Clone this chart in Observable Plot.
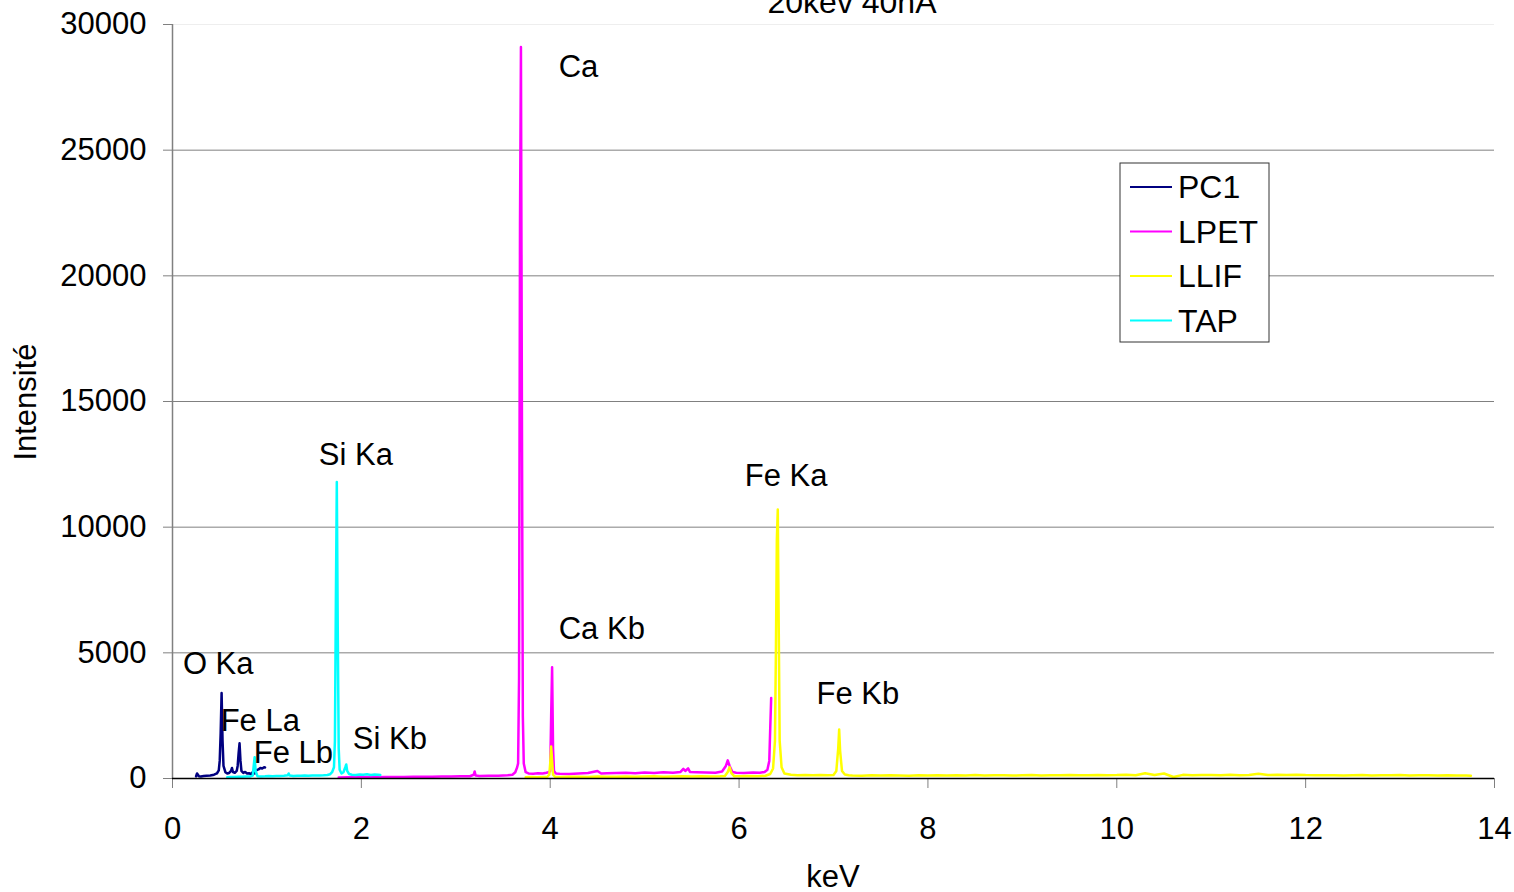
<!DOCTYPE html>
<html>
<head>
<meta charset="utf-8">
<script src="https://cdn.jsdelivr.net/npm/d3@7"></script>
<script src="https://cdn.jsdelivr.net/npm/@observablehq/plot@0.6"></script>
<style>
  html, body { margin: 0; padding: 0; background: #ffffff; }
  #chart { width: 1514px; height: 892px; overflow: hidden; }
</style>
</head>
<body>
<div id="chart"></div>
<script>
// ---- Data ----
const seriesNames = ["PC1", "LPET", "LLIF", "TAP"];
const seriesColors = ["#000080", "#ff00ff", "#ffff00", "#00ffff"];

const pc1Kev = [0.25,0.26,0.28,0.30,0.33,0.36,0.40,0.44,0.47,0.49,0.50,0.51,0.52,0.53,0.54,0.56,0.58,0.60,0.62,0.63,0.64,0.66,0.68,0.69,0.70,0.71,0.72,0.73,0.75,0.77,0.79,0.81,0.83,0.85,0.87,0.89,0.91,0.93,0.95,0.97,0.98];
const pc1Int = [90,200,90,80,100,110,120,150,200,320,700,1800,3400,1500,500,250,200,220,300,420,260,230,300,500,1000,1400,700,300,220,260,200,210,180,250,200,330,360,420,400,450,440];

const tapKev = [0.58,0.62,0.66,0.70,0.74,0.78,0.82,0.85,0.86,0.87,0.88,0.90,0.94,0.98,1.02,1.06,1.10,1.14,1.18,1.22,1.23,1.24,1.28,1.32,1.36,1.40,1.44,1.48,1.52,1.56,1.60,1.64,1.67,1.69,1.71,1.72,1.73,1.74,1.75,1.76,1.77,1.79,1.81,1.83,1.84,1.85,1.87,1.90,1.94,1.98,2.02,2.06,2.10,2.14,2.18,2.20];
const tapInt = [50,60,55,70,65,80,75,120,500,850,300,90,80,85,95,90,100,95,110,130,200,120,100,110,105,115,110,120,115,120,125,140,170,250,450,1500,7000,11800,6000,1200,350,200,250,450,560,300,180,150,140,160,150,170,140,160,150,140];

const lpetKev = [1.76,1.85,1.95,2.05,2.15,2.25,2.35,2.45,2.55,2.65,2.75,2.85,2.95,3.05,3.15,3.19,3.20,3.21,3.25,3.35,3.45,3.55,3.60,3.63,3.65,3.66,3.67,3.68,3.69,3.70,3.71,3.72,3.74,3.77,3.82,3.87,3.92,3.96,3.99,4.00,4.01,4.02,4.03,4.04,4.06,4.10,4.20,4.30,4.40,4.50,4.52,4.54,4.60,4.70,4.80,4.90,5.00,5.10,5.20,5.30,5.38,5.41,5.43,5.46,5.48,5.55,5.65,5.75,5.82,5.86,5.88,5.90,5.93,5.97,6.05,6.15,6.22,6.27,6.30,6.32,6.33,6.34];
const lpetInt = [40,50,45,55,50,60,55,60,65,70,65,75,80,85,90,150,280,120,100,105,110,130,150,250,450,600,4000,22000,29100,15000,2500,600,250,200,190,210,200,230,260,300,2500,4430,1200,300,200,190,180,200,220,300,250,200,210,220,230,210,240,220,250,230,260,380,300,400,260,250,240,230,280,500,720,500,260,230,220,240,230,260,350,700,2000,3200];

const llifKev = [3.74,3.80,3.86,3.92,3.97,3.99,4.00,4.01,4.02,4.03,4.05,4.10,4.20,4.30,4.40,4.50,4.60,4.70,4.80,4.90,5.00,5.10,5.20,5.30,5.40,5.50,5.60,5.70,5.80,5.85,5.88,5.90,5.92,5.95,6.00,6.10,6.20,6.28,6.33,6.36,6.38,6.39,6.40,6.41,6.42,6.43,6.45,6.48,6.55,6.62,6.70,6.78,6.86,6.94,7.00,7.03,7.05,7.06,7.07,7.09,7.12,7.16,7.2,7.3,7.4,7.5,7.6,7.7,7.8,7.9,8.0,8.1,8.2,8.3,8.4,8.5,8.6,8.7,8.8,8.9,9.0,9.1,9.2,9.3,9.4,9.5,9.6,9.7,9.8,9.9,10.0,10.1,10.2,10.3,10.4,10.5,10.6,10.7,10.8,10.9,11.0,11.1,11.2,11.3,11.4,11.5,11.6,11.7,11.8,11.9,12.0,12.1,12.2,12.3,12.4,12.5,12.6,12.7,12.8,12.9,13.0,13.1,13.2,13.3,13.4,13.5,13.6,13.7,13.75];
const llifInt = [50,55,50,60,70,150,600,1270,700,150,70,60,65,70,60,75,70,65,80,70,75,85,70,80,90,75,85,80,90,100,260,450,200,90,85,95,90,110,180,400,1500,5000,9500,10700,6000,1500,450,200,150,130,140,125,135,130,140,300,1200,1950,1100,300,160,130,120,110,125,115,130,120,110,125,120,130,115,125,120,135,120,125,130,120,125,135,120,130,125,135,130,125,140,130,135,150,130,210,140,200,60,145,130,140,135,125,150,130,140,190,135,145,140,150,135,130,125,130,115,125,140,120,130,125,140,120,125,130,120,125,120,115,110];

const annLabels = ["Ca", "Si Ka", "Fe Ka", "Ca Kb", "Fe Kb", "O Ka", "Fe La", "Fe Lb", "Si Kb"];
const annKev = [4.09, 1.55, 6.06, 4.09, 6.82, 0.11, 0.51, 0.86, 1.91];
const annInt = [28300, 12850, 12050, 5930, 3340, 4540, 2270, 1030, 1550];

const xTicks = [0, 2, 4, 6, 8, 10, 12, 14];
const yTicks = [0, 5000, 10000, 15000, 20000, 25000, 30000];
const gridVals = [5000, 10000, 15000, 20000, 25000];

const titleText = "20kev 40nA";
const xLabel = "keV";
const yLabel = "Intensité";

// ---- Build rows ----
function rows(name, kev, inten) {
  return kev.map((k, i) => ({series: name, kev: k, int: inten[i]}));
}
const pc1 = rows("PC1", pc1Kev, pc1Int);
const lpet = rows("LPET", lpetKev, lpetInt);
const llif = rows("LLIF", llifKev, llifInt);
const tap = rows("TAP", tapKev, tapInt);
const ann = annLabels.map((t, i) => ({t, kev: annKev[i], int: annInt[i]}));

const FONT = "'Liberation Sans', Arial, sans-serif";
const FS = 31;

const lineOpts = {x: "kev", y: "int", stroke: "series", strokeWidth: 2.5, curve: "linear"};

const chart = Plot.plot({
  width: 1514,
  height: 892,
  marginTop: 24,
  marginRight: 20,
  marginBottom: 114,
  marginLeft: 172,
  style: {fontFamily: FONT, fontSize: FS + "px", background: "#ffffff", color: "#000000", overflow: "visible"},
  x: {domain: [0, 14]},
  y: {domain: [0, 30000]},
  color: {domain: seriesNames, range: seriesColors},
  marks: [
    Plot.ruleY(gridVals, {stroke: "#808080", strokeWidth: 1}),
    Plot.ruleY([30000], {stroke: "#eeeeee", strokeWidth: 1}),
    Plot.axisY({ticks: yTicks, tickSize: 9, tickPadding: 17, stroke: "#808080", fontSize: FS, label: null, tickFormat: d => String(d)}),
    Plot.axisX({ticks: xTicks, tickSize: 10, tickPadding: 28, stroke: "#808080", fontSize: FS, label: null, tickFormat: d => String(d)}),
    Plot.ruleX([0], {stroke: "#808080", strokeWidth: 1.5}),
    Plot.line(pc1, lineOpts),
    Plot.line(lpet, lineOpts),
    Plot.line(llif, lineOpts),
    Plot.line(tap, lineOpts),
    Plot.ruleY([0], {stroke: "#000000", strokeWidth: 1.5}),
    Plot.text(ann, {x: "kev", y: "int", text: "t", textAnchor: "start", lineAnchor: "middle", fontSize: FS, fill: "#000000"})
  ]
});

document.getElementById("chart").appendChild(chart);

// ---- Title, axis labels and legend inside the SVG ----
const svg = d3.select(chart);
svg.append("text")
  .attr("x", 852).attr("y", 13)
  .attr("text-anchor", "middle")
  .style("font-family", FONT).style("font-size", "32px")
  .attr("fill", "#000").text(titleText);

svg.append("text")
  .attr("x", 833).attr("y", 887)
  .attr("text-anchor", "middle")
  .style("font-family", FONT).style("font-size", FS + "px")
  .attr("fill", "#000").text(xLabel);

svg.append("text")
  .attr("transform", "translate(36,402) rotate(-90)")
  .attr("text-anchor", "middle")
  .style("font-family", FONT).style("font-size", FS + "px")
  .attr("fill", "#000").text(yLabel);

const lg = svg.append("g");
lg.append("rect")
  .attr("x", 1120).attr("y", 163).attr("width", 149).attr("height", 179)
  .attr("fill", "#ffffff").attr("stroke", "#333333").attr("stroke-width", 1);
seriesNames.forEach((name, i) => {
  const yy = 187 + i * 44.5;
  lg.append("line")
    .attr("x1", 1130).attr("x2", 1172).attr("y1", yy).attr("y2", yy)
    .attr("stroke", seriesColors[i]).attr("stroke-width", 2);
  lg.append("text")
    .attr("x", 1178).attr("y", yy + 11)
    .attr("text-anchor", "start")
    .style("font-family", FONT).style("font-size", "32px")
    .attr("fill", "#000").text(name);
});
</script>
</body>
</html>
